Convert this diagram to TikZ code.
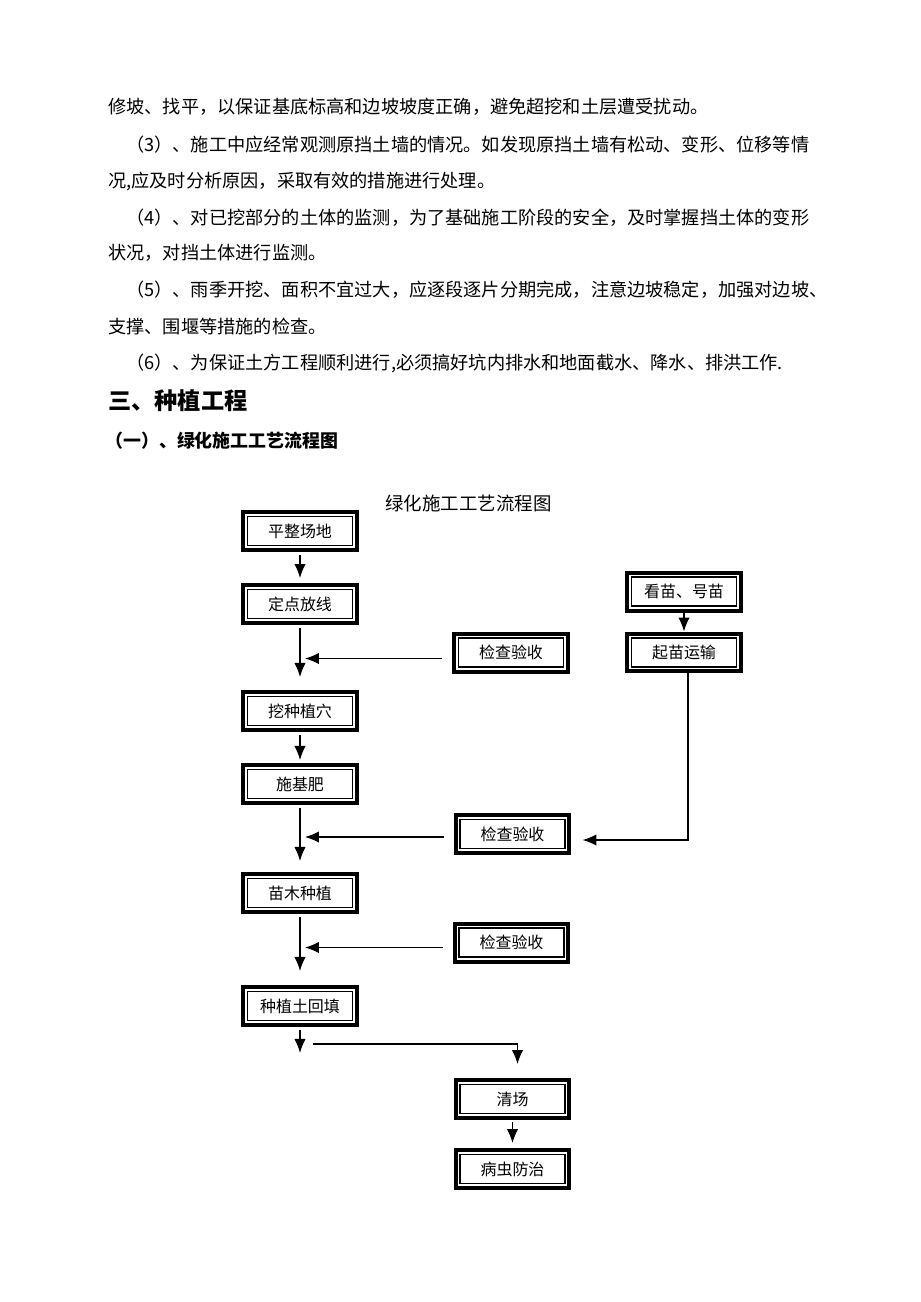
\documentclass[tikz,border=0pt]{standalone}
\usepackage{fontspec}
\setmainfont{Noto Sans CJK SC}
\usepackage{tikz}
\usetikzlibrary{positioning, arrows.meta}

\newcommand{\bodyfont}{\fontsize{10.35pt}{12pt}\selectfont}
\newcommand{\headfont}{\fontsize{13.2pt}{15pt}\selectfont\bfseries}
\newcommand{\subheadfont}{\fontsize{10.2pt}{12pt}\selectfont\bfseries}
\newcommand{\boxfont}{\fontsize{9.1pt}{11pt}\selectfont}

\tikzstyle{stepbox} = [rectangle, draw=black, line width=0.08cm, minimum width=2.28cm, minimum height=0.76cm, inner sep=0pt, text centered, font=\boxfont,
  path picture={\draw[line width=0.6pt] ([shift={(0.09cm,-0.09cm)}]path picture bounding box.north west) rectangle ([shift={(-0.09cm,0.09cm)}]path picture bounding box.south east);}]
\tikzstyle{arrow} = [line width=0.75pt, -{Latex[length=2.8mm, width=2.3mm]}]
\tikzstyle{bodytext} = [anchor=west, inner sep=0pt, font=\bodyfont]

\begin{document}
\begin{tikzpicture}[x=0.02cm, y=-0.02cm]
  \fill[white] (0,0) rectangle (920,1302);
  \useasboundingbox (0,0) rectangle (920,1302);

  % text above the chart
  \node (p1) [bodytext] at (108,107) {修坡、找平，以保证基底标高和边坡坡度正确，避免超挖和土层遭受扰动。};
  \node (p2) [bodytext] at (126,145) {（3）、施工中应经常观测原挡土墙的情况。如发现原挡土墙有松动、变形、位移等情};
  \node (p3) [bodytext] at (108,182) {况,应及时分析原因，采取有效的措施进行处理。};
  \node (p4) [bodytext] at (126,218) {（4）、对已挖部分的土体的监测，为了基础施工阶段的安全，及时掌握挡土体的变形};
  \node (p5) [bodytext] at (108,253) {状况，对挡土体进行监测。};
  \node (p6) [bodytext] at (126,290) {（5）、雨季开挖、面积不宜过大，应逐段逐片分期完成，注意边坡稳定，加强对边坡、};
  \node (p7) [bodytext] at (108,327) {支撑、围堰等措施的检查。};
  \node (p8) [bodytext] at (126,363) {（6）、为保证土方工程顺利进行,必须搞好坑内排水和地面截水、降水、排洪工作.};
  \node (h1) [anchor=west, inner sep=0pt, font=\headfont] at (108,401) {三、种植工程};
  \node (h2) [anchor=west, inner sep=0pt, font=\subheadfont] at (105,441) {（一）、绿化施工工艺流程图};

  % flow chart
  \node (title) [inner sep=0pt, font=\fontsize{10.5pt}{12pt}\selectfont] at (468.5,503) {绿化施工工艺流程图};

  \node (pingzheng) [stepbox] at (300,531) {平整场地};
  \node (dingdian)  [stepbox, below=0.62cm of pingzheng] {定点放线};
  \node (wazhong)   [stepbox, below=1.30cm of dingdian] {挖种植穴};
  \node (shifei)    [stepbox, below=0.62cm of wazhong] {施基肥};
  \node (miaomu)    [stepbox, below=1.34cm of shifei] {苗木种植};
  \node (huitian)   [stepbox, below=1.42cm of miaomu] {种植土回填};

  \node (jiancha1)  [stepbox] at (511,652.5) {检查验收};
  \node (jiancha2)  [stepbox] at (512.5,834) {检查验收};
  \node (jiancha3)  [stepbox] at (511.5,942.5) {检查验收};
  \node (kanmiao)   [stepbox] at (684,591.5) {看苗、号苗};
  \node (qimiao)    [stepbox, below=0.38cm of kanmiao] {起苗运输};
  \node (qingchang) [stepbox] at (512.5,1099) {清场};
  \node (bingchong) [stepbox, below=0.56cm of qingchang] {病虫防治};

  \coordinate (drop) at ([yshift=-0.52cm]huitian.south);

  \draw [arrow, shorten <=0.06cm, shorten >=0.1cm] (pingzheng) -- (dingdian);
  \draw [arrow, shorten <=0.06cm, shorten >=0.26cm] (dingdian) -- (wazhong);
  \draw [arrow, shorten <=0.06cm, shorten >=0.06cm] (wazhong) -- (shifei);
  \draw [arrow, shorten <=0.06cm, shorten >=0.22cm] (shifei) -- (miaomu);
  \draw [arrow, shorten <=0.06cm, shorten >=0.28cm] (miaomu) -- (huitian);
  \draw [arrow, shorten <=0.06cm] (huitian) -- (drop);

  \draw [arrow] ([xshift=-0.2cm, yshift=-0.12cm]jiancha1.west) -- ([xshift=0.1cm, yshift=-0.12cm]dingdian.south |- jiancha1.west);
  \draw [arrow] ([xshift=-0.2cm, yshift=-0.06cm]jiancha2.west) -- ([xshift=0.1cm, yshift=-0.06cm]shifei.south |- jiancha2.west);
  \draw [arrow] ([xshift=-0.2cm, yshift=-0.1cm]jiancha3.west) -- ([xshift=0.1cm, yshift=-0.1cm]miaomu.south |- jiancha3.west);

  \draw [arrow] (kanmiao) -- (qimiao);
  \draw [arrow] ([xshift=0.08cm]qimiao.south) |- ([xshift=0.22cm, yshift=-0.12cm]jiancha2.east);

  \draw [arrow, shorten >=0.28cm] ([xshift=0.26cm, yshift=-0.34cm]huitian.south) -| ([xshift=0.1cm]qingchang.north);
  \draw [arrow, shorten <=0.04cm, shorten >=0.1cm] (qingchang) -- (bingchong);
\end{tikzpicture}
\end{document}
